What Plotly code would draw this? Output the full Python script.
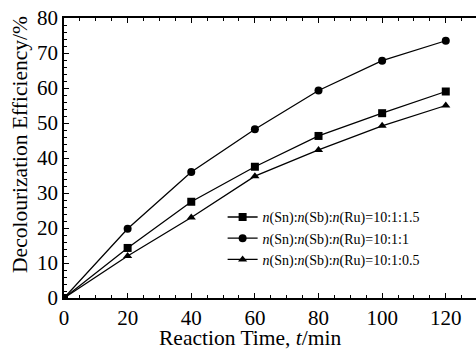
import plotly.graph_objects as go

time = [0, 20, 40, 60, 80, 100, 120]
ser_15 = [0, 14.3, 27.5, 37.5, 46.3, 52.8, 59.0]
ser_10 = [0, 19.8, 36.0, 48.2, 59.3, 67.8, 73.5]
ser_05 = [0, 12.0, 23.0, 34.8, 42.3, 49.2, 55.0]
names = ["<i>n</i>(Sn):<i>n</i>(Sb):<i>n</i>(Ru)=10:1:1.5",
         "<i>n</i>(Sn):<i>n</i>(Sb):<i>n</i>(Ru)=10:1:1",
         "<i>n</i>(Sn):<i>n</i>(Sb):<i>n</i>(Ru)=10:1:0.5"]
symbols = ["square", "circle", "triangle-up"]
x_title = "Reaction Time, <i>t</i>/min"
y_title = "Decolourization Efficiency/%"

fig = go.Figure()
for y, n, s in zip([ser_15, ser_10, ser_05], names, symbols):
    fig.add_trace(go.Scatter(x=time, y=y, name=n, mode="lines+markers",
                             line=dict(color="black", width=1.3),
                             marker=dict(symbol=s, size=8, color="black")))

font = "Liberation Serif"
axcommon = dict(showline=True, linecolor="black", linewidth=1.6,
                ticks="inside", ticklen=5, tickwidth=1.2, tickcolor="black",
                showgrid=False, zeroline=False,
                tickfont=dict(family=font, size=21, color="black"),
                minor=dict(ticks="inside", ticklen=3, tickwidth=1, tickcolor="black"))
fig.update_xaxes(range=[0, 129.5], dtick=20, tick0=0, mirror="ticks", **axcommon)
fig.update_yaxes(range=[0, 80], dtick=10, tick0=0, mirror=False, **axcommon)

fig.add_annotation(text=x_title, xref="paper", yref="paper", x=0.451, y=0,
                   xanchor="center", yanchor="middle", yshift=-40, showarrow=False,
                   font=dict(family=font, size=21.5, color="black"))
fig.add_annotation(text=y_title, xref="paper", yref="paper", x=-0.107, y=0.55,
                   xanchor="center", yanchor="middle", textangle=-90, showarrow=False,
                   font=dict(family=font, size=21.5, color="black"))

fig.update_layout(template="none", width=476, height=351,
                  margin=dict(l=64, r=0, t=18, b=53),
                  plot_bgcolor="white", paper_bgcolor="white",
                  font=dict(family=font, color="black"),
                  legend=dict(x=0.385, y=0.345, xanchor="left", yanchor="top",
                              bgcolor="rgba(0,0,0,0)", tracegroupgap=0,
                              font=dict(family=font, size=14, color="black"),
                              itemwidth=30))
fig.write_html("out.html")
